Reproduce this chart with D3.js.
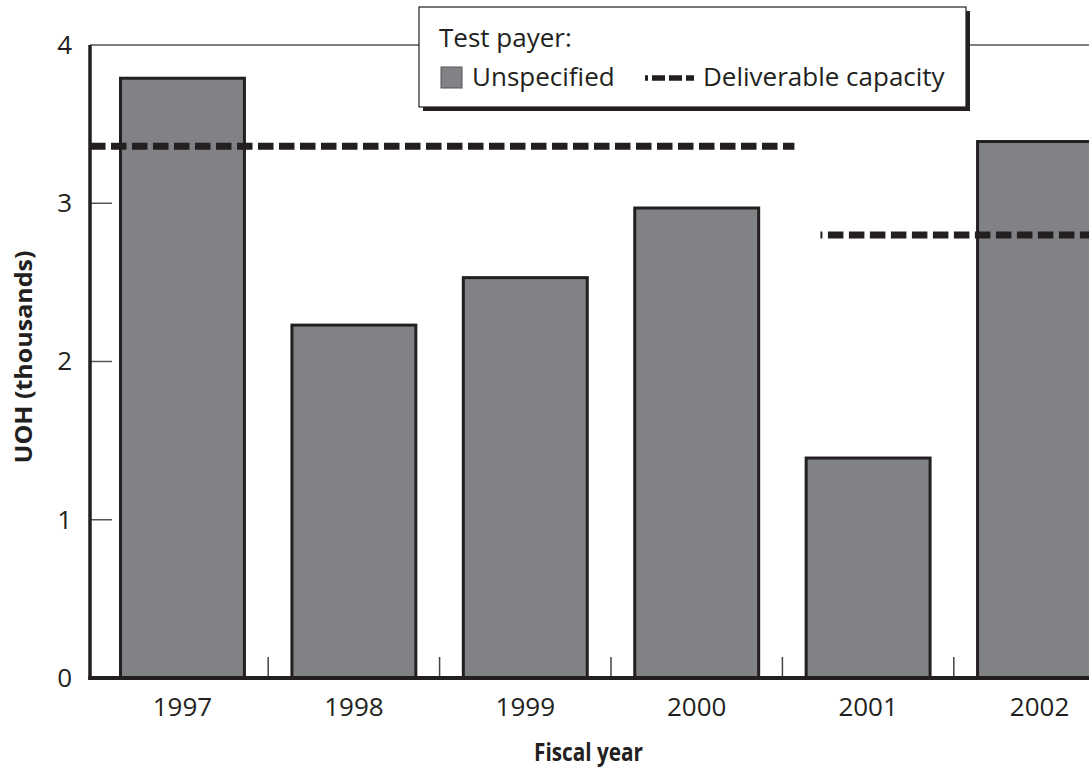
<!DOCTYPE html>
<html>
<head>
<meta charset="utf-8">
<script src="https://cdn.jsdelivr.net/npm/d3@7"></script>
<style>
  html, body { margin: 0; padding: 0; background: #fff; }
  svg { display: block; }
  text { font-family: "Open Sans", "Noto Sans", sans-serif; fill: #231f20; }
</style>
</head>
<body>
<script>
// ---- data ----
const years = ["1997", "1998", "1999", "2000", "2001", "2002"];
const unspecified = [3.79, 2.23, 2.53, 2.97, 1.39, 3.39];
const capacity = [3.36, 3.36, 3.36, 3.36, 2.80, 2.80];
const yTicks = [0, 1, 2, 3, 4];
const yTitle = "UOH (thousands)";
const xTitle = "Fiscal year";
const legendTitle = "Test payer:";
const legendBar = "Unspecified";
const legendLine = "Deliverable capacity";

// ---- layout ----
const W = 1089, H = 767;
const X0 = 90, X1 = 1132;
const svg = d3.select("body").append("svg").attr("width", W).attr("height", H);

const x = d3.scaleBand().domain(years).range([X0, X1]).paddingInner(0.277).paddingOuter(0.178);
const y = d3.scaleLinear().domain([0, 4]).range([678, 45]);

const ink = "#231f20";
const barFill = "#808285";

// top frame line at y=4
svg.append("line")
  .attr("x1", X0).attr("x2", W).attr("y1", y(4)).attr("y2", y(4))
  .attr("stroke", "#555").attr("stroke-width", 1.5);

// y inner ticks
svg.append("g").selectAll("line").data(yTicks.filter(d => d > 0 && d < 4)).join("line")
  .attr("x1", X0).attr("x2", X0 + 22)
  .attr("y1", d => y(d)).attr("y2", d => y(d))
  .attr("stroke", "#555").attr("stroke-width", 1.5);

// category separator ticks
const half = x.step() * x.paddingInner() / 2;
svg.append("g").selectAll("line").data(years.slice(1)).join("line")
  .attr("x1", d => x(d) - half).attr("x2", d => x(d) - half)
  .attr("y1", y(0) - 21).attr("y2", y(0))
  .attr("stroke", "#444").attr("stroke-width", 1.5);

// bars
svg.append("g").selectAll("rect").data(years).join("rect")
  .attr("x", d => x(d))
  .attr("y", (d, i) => y(unspecified[i]))
  .attr("width", x.bandwidth())
  .attr("height", (d, i) => y(0) - y(unspecified[i]))
  .attr("fill", barFill).attr("stroke", ink).attr("stroke-width", 3);

// capacity segments: group consecutive equal values
const groups = [];
years.forEach((yr, i) => {
  const last = groups[groups.length - 1];
  if (last && last.v === capacity[i]) last.end = i;
  else groups.push({ v: capacity[i], start: i, end: i });
});
svg.append("g").selectAll("line").data(groups).join("line")
  .attr("x1", (g, k) => k === 0 ? X0 : x(years[g.start]) - half + 38)
  .attr("x2", (g, k) => k === groups.length - 1 ? X1 : x(years[g.end + 1]) - half + 12)
  .attr("y1", g => y(g.v)).attr("y2", g => y(g.v))
  .attr("stroke", ink).attr("stroke-width", 7)
  .attr("stroke-dasharray", "15.5 5.5")
  .attr("stroke-dashoffset", (g, k) => k === 0 ? 0 : 13.5);

// axes lines
svg.append("line").attr("x1", X0).attr("x2", X0).attr("y1", y(4)).attr("y2", y(0) + 2)
  .attr("stroke", ink).attr("stroke-width", 3.5);
svg.append("line").attr("x1", X0 - 1.75).attr("x2", W).attr("y1", y(0)).attr("y2", y(0))
  .attr("stroke", ink).attr("stroke-width", 4);

// y labels
const yAxis = svg.append("g").attr("transform", `translate(${X0 - 18},0)`)
  .call(d3.axisLeft(y).tickValues(yTicks).tickFormat(d3.format("d")).tickSize(0).tickPadding(0));
yAxis.select(".domain").remove();
yAxis.selectAll("text").style("font-size", "26px").attr("fill", ink).style("font-family", "'Open Sans', sans-serif");

// x labels
const xAxis = svg.append("g").attr("transform", `translate(0,${y(0)})`)
  .call(d3.axisBottom(x).tickSize(0).tickPadding(20));
xAxis.select(".domain").remove();
xAxis.selectAll("text").style("font-size", "26px").attr("fill", ink).style("font-family", "'Open Sans', sans-serif");

// axis titles
svg.append("text")
  .attr("transform", `translate(32,357) rotate(-90)`)
  .attr("text-anchor", "middle")
  .style("font-size", "24px").style("font-weight", "bold")
  .attr("textLength", 213).attr("lengthAdjust", "spacingAndGlyphs")
  .text(yTitle);
svg.append("text")
  .attr("x", (X0 + W) / 2 - 1).attr("y", 761)
  .attr("text-anchor", "middle")
  .style("font-size", "25px").style("font-weight", "bold")
  .attr("textLength", 109).attr("lengthAdjust", "spacingAndGlyphs")
  .text(xTitle);

// legend
const lg = svg.append("g");
const LX = 419, LY = 7, LW = 547, LH = 100;
lg.append("rect").attr("x", LX + 4).attr("y", LY + 4).attr("width", LW).attr("height", LH).attr("fill", ink);
lg.append("rect").attr("x", LX).attr("y", LY).attr("width", LW).attr("height", LH)
  .attr("fill", "#fff").attr("stroke", ink).attr("stroke-width", 1.2);
lg.append("text").attr("x", 439).attr("y", 46.5).style("font-size", "26px").text(legendTitle);
lg.append("rect").attr("x", 441).attr("y", 67).attr("width", 21).attr("height", 21)
  .attr("fill", barFill).attr("stroke", "#555").attr("stroke-width", 1);
lg.append("text").attr("x", 472).attr("y", 86).style("font-size", "26px").text(legendBar);
lg.append("line").attr("x1", 645).attr("x2", 694).attr("y1", 78).attr("y2", 78)
  .attr("stroke", ink).attr("stroke-width", 5.5)
  .attr("stroke-dasharray", "13 4").attr("stroke-dashoffset", 10);
lg.append("text").attr("x", 703).attr("y", 86).style("font-size", "26px").text(legendLine);
</script>
</body>
</html>
